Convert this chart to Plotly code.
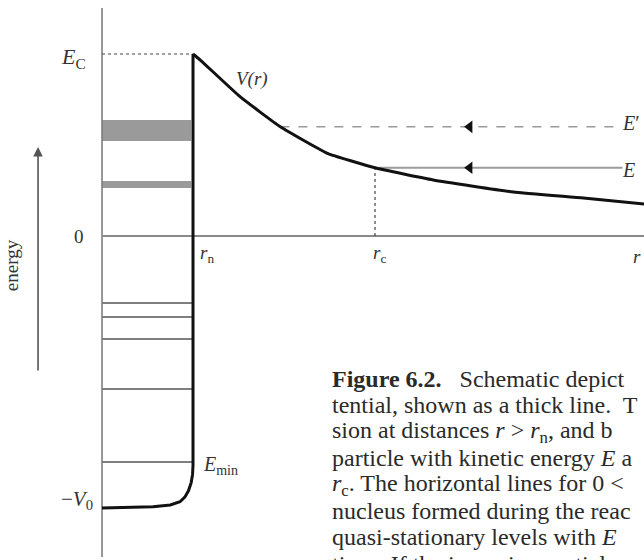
import plotly.graph_objects as go

# ---- data (arbitrary energy / radius units) ----
r_n = 1.0          # nuclear radius
r_c = 3.0          # classical turning point for energy E
E_C = 10.0         # Coulomb barrier height
V0 = 15.0          # well depth
E_prime = 6.0      # higher incoming energy E'
E_in = 3.75        # incoming energy E
E_min = -12.42     # lowest bound level

bound_levels = [-3.68, -4.45, -5.66, -8.41, -12.42]
band_low = [5.22, 2.64]
band_high = [6.37, 3.02]

coulomb_r = [1.0, 1.08, 1.52, 1.96, 2.47, 3.0, 3.64, 4.52, 5.29, 5.96]
coulomb_V = [10.0, 9.67, 7.64, 6.0, 4.56, 3.75, 3.08, 2.42, 2.09, 1.76]

well_r = [0.0, 0.3, 0.56, 0.75, 0.857, 0.91, 0.95, 0.98, 0.995, 1.0, 1.0]
well_V = [-14.95, -14.93, -14.88, -14.78, -14.6, -14.35, -14.0, -13.55, -13.1, -12.6, 10.0]

arrow_r = 4.04
r_max = 5.956
r_min = -1.121
axis_top = 12.53
axis_bottom = -17.64
energy_arrow_r = -0.703
energy_arrow_from = -7.47
energy_arrow_to = 4.89

caption_lines = [
    "<b>Figure 6.2.</b>&nbsp;&nbsp; Schematic depict",
    "tential, shown as a thick line.&nbsp; T",
    "sion at distances <i>r</i> &gt; <i>r</i><sub>n</sub>, and b",
    "particle with kinetic energy <i>E</i> a",
    "<i>r</i><sub>c</sub>. The horizontal lines for 0 &lt;",
    "nucleus formed during the reac",
    "quasi-stationary levels with <i>E</i>",
    "tions. If the incoming particle",
]

SERIF = "Liberation Serif"
fig = go.Figure()

# gray quasi-stationary bands
for lo, hi in zip(band_low, band_high):
    fig.add_shape(type="rect", x0=0, x1=0.98 * r_n, y0=lo, y1=hi,
                  fillcolor="#9a9a9a", line_width=0, layer="below")

# bound levels
for lv in bound_levels:
    fig.add_trace(go.Scatter(x=[0, r_n], y=[lv, lv], mode="lines",
                             line=dict(color="#555555", width=1.4),
                             hoverinfo="skip", showlegend=False))

# energy axis (vertical) and zero line
fig.add_trace(go.Scatter(x=[0, 0], y=[axis_top, axis_bottom], mode="lines",
                         line=dict(color="#777777", width=1.5),
                         hoverinfo="skip", showlegend=False))
fig.add_trace(go.Scatter(x=[0, r_max], y=[0, 0], mode="lines",
                         line=dict(color="#8a8a8a", width=2),
                         hoverinfo="skip", showlegend=False))

# dotted lines: E_C level and r_c
fig.add_trace(go.Scatter(x=[0, r_n], y=[E_C, E_C], mode="lines",
                         line=dict(color="#444444", width=1.2, dash="dot"),
                         hoverinfo="skip", showlegend=False))
fig.add_trace(go.Scatter(x=[r_c, r_c], y=[0, E_in], mode="lines",
                         line=dict(color="#444444", width=1.2, dash="dot"),
                         hoverinfo="skip", showlegend=False))

# incoming energies
fig.add_trace(go.Scatter(x=[coulomb_r[3], 5.72], y=[E_prime, E_prime], mode="lines",
                         line=dict(color="#999999", width=1.6, dash="dash"),
                         hoverinfo="skip", showlegend=False))
fig.add_trace(go.Scatter(x=[r_c, 5.72], y=[E_in, E_in], mode="lines",
                         line=dict(color="#9a9a9a", width=1.8),
                         hoverinfo="skip", showlegend=False))
fig.add_trace(go.Scatter(x=[arrow_r, arrow_r], y=[E_prime, E_in], mode="markers",
                         marker=dict(symbol="triangle-left", size=11, color="#111111"),
                         hoverinfo="skip", showlegend=False))

# potential (thick): nuclear well + Coulomb tail
fig.add_trace(go.Scatter(x=well_r, y=well_V, mode="lines",
                         line=dict(color="#111111", width=3),
                         hoverinfo="skip", showlegend=False))
fig.add_trace(go.Scatter(x=coulomb_r, y=coulomb_V, mode="lines",
                         line=dict(color="#111111", width=3, shape="spline", smoothing=0.4),
                         hoverinfo="skip", showlegend=False))

# energy arrow
fig.add_annotation(x=energy_arrow_r, y=energy_arrow_to, ax=energy_arrow_r, ay=energy_arrow_from,
                   axref="x", ayref="y", xref="x", yref="y", text="", showarrow=True,
                   arrowhead=2, arrowsize=1.2, arrowwidth=1.6, arrowcolor="#555555")

def label(x, y, text, size=19, xanchor="center", **kw):
    fig.add_annotation(x=x, y=y, xref="x", yref="y", text=text, showarrow=False,
                       xanchor=xanchor, yanchor="middle",
                       font=dict(family=SERIF, size=size, color="#333333"), **kw)

label(-0.15, E_C - 0.2, "<i>E</i><sub>C</sub>", size=22, xanchor="right")
label(-0.18, 0.0, "0", size=19, xanchor="right")
label(-0.08, -V0 + 0.5, "−<i>V</i><sub>0</sub>", size=21, xanchor="right")
label(1.09, E_min - 0.2, "<i>E</i><sub>min</sub>", size=20, xanchor="left")
label(1.45, 8.6, "<i>V(r)</i>", size=19, xanchor="left")
label(5.69, E_prime + 0.2, "<i>E</i>′", size=20, xanchor="left")
label(5.69, E_in - 0.1, "<i>E</i>", size=20, xanchor="left")
label(1.15, -1.0, "<i>r</i><sub>n</sub>", size=19)
label(3.05, -1.0, "<i>r</i><sub>c</sub>", size=19)
label(5.88, -1.1, "<i>r</i>", size=19)

fig.add_annotation(x=-1.0, y=-1.6, xref="x", yref="y", text="energy", showarrow=False,
                   textangle=-90, font=dict(family=SERIF, size=19, color="#333333"))

# caption
cap_x = 330
cap_y0 = 379
cap_dy = 26.4
for i, line in enumerate(caption_lines):
    fig.add_annotation(x=cap_x / 644, y=1 - (cap_y0 + i * cap_dy) / 560,
                       xref="paper", yref="paper", text=line, showarrow=False,
                       xanchor="left", yanchor="middle",
                       font=dict(family=SERIF, size=24, color="#2a2a2a"))

fig.update_layout(
    width=644, height=560,
    margin=dict(l=0, r=0, t=0, b=0),
    paper_bgcolor="white", plot_bgcolor="white",
    xaxis=dict(range=[r_min, r_max], visible=False, fixedrange=True),
    yaxis=dict(range=[-17.802, 12.967], visible=False, fixedrange=True),
    showlegend=False,
)

fig.write_html("out.html")
